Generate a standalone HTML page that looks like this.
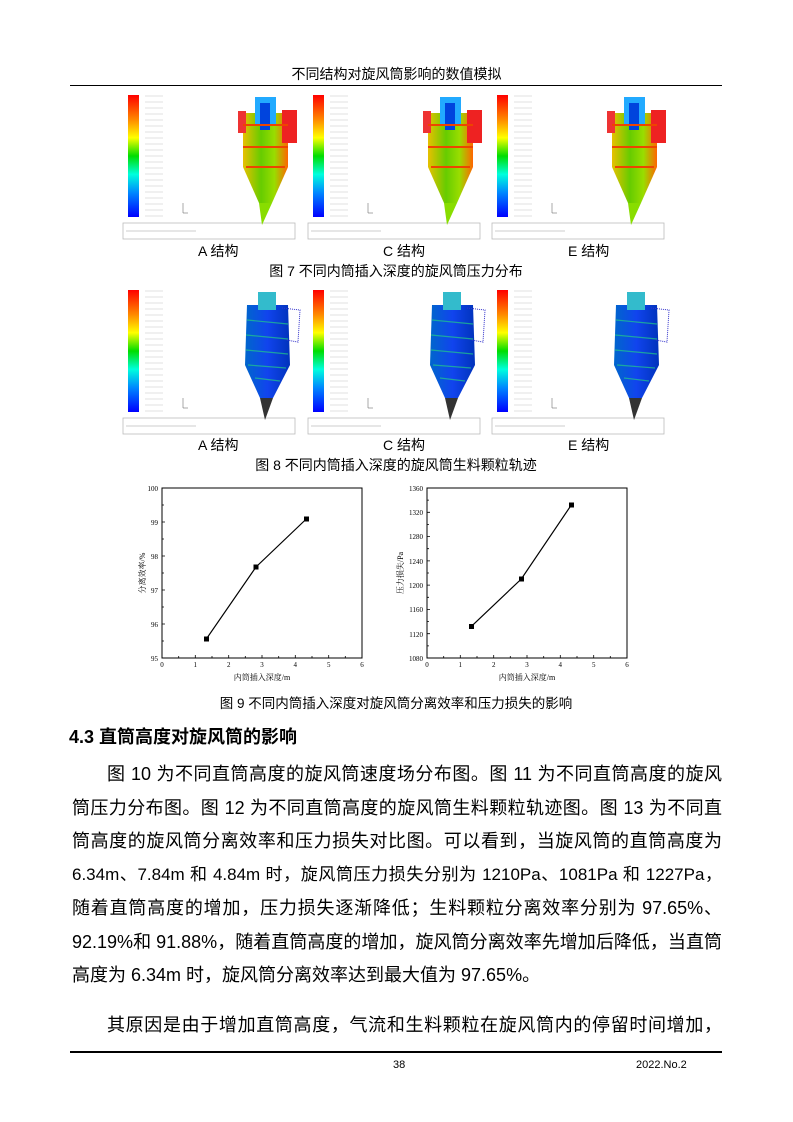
<!DOCTYPE html>
<html><head><meta charset="utf-8">
<style>
body{margin:0;background:#fff;}
#p{position:relative;width:793px;height:1122px;overflow:hidden;font-family:"Liberation Sans","Noto Sans CJK SC",sans-serif;color:#000;}
.t{position:absolute;white-space:nowrap;}
.ln{position:absolute;left:72px;width:650px;font-size:18px;text-align:justify;text-align-last:justify;height:26px;line-height:26px;overflow:hidden;}
</style></head><body><div id="p">
<div class="t" style="left:0;width:793px;text-align:center;top:64px;font-size:14px;">不同结构对旋风筒影响的数值模拟</div>
<div style="position:absolute;left:70px;top:85px;width:652px;height:1px;background:#000"></div>

<svg width="793" height="720" style="position:absolute;left:0;top:0" font-family="Liberation Sans, Noto Sans CJK SC, sans-serif">
<defs>
<linearGradient id="cb" x1="0" y1="0" x2="0" y2="1">
<stop offset="0" stop-color="#f00"/><stop offset="0.2" stop-color="#f80"/><stop offset="0.35" stop-color="#ff0"/><stop offset="0.5" stop-color="#0d0"/><stop offset="0.65" stop-color="#0fd"/><stop offset="0.8" stop-color="#08f"/><stop offset="1" stop-color="#00f"/>
</linearGradient>
<linearGradient id="body7" x1="0" y1="0" x2="1" y2="0">
<stop offset="0" stop-color="#e8c000"/><stop offset="0.4" stop-color="#6c0"/><stop offset="0.7" stop-color="#9d0"/><stop offset="1" stop-color="#f60"/>
</linearGradient>
<linearGradient id="body8" x1="0" y1="0" x2="1" y2="0">
<stop offset="0" stop-color="#06c"/><stop offset="0.5" stop-color="#14e"/><stop offset="1" stop-color="#03b"/>
</linearGradient>
<g id="cy7">
<path d="M133 28 L178 28 L178 82 L162 118 L149 118 L133 82 Z" fill="url(#body7)"/>
<path d="M172 25 L187 25 L187 58 L172 58Z" fill="#e22"/>
<path d="M128 26 L136 26 L136 48 L128 48Z" fill="#e33"/>
<path d="M145 12 L166 12 L166 40 L145 40Z" fill="#2af"/>
<path d="M150 18 L160 18 L160 45 L150 45Z" fill="#04d"/>
<path d="M133 40 L178 40 M133 62 L178 62 M136 82 L175 82" stroke="#e40" stroke-width="2"/>
<path d="M149 118 L162 118 L152 140 Z" fill="#8d0"/>
</g>
<g id="cy8">
<path d="M137 25 L178 25 L180 85 L163 118 L150 118 L135 85 Z" fill="url(#body8)"/>
<path d="M148 12 L166 12 L166 30 L148 30Z" fill="#3bc"/>
<path d="M172 28 L190 30 L188 62 L176 60" fill="none" stroke="#33c" stroke-width="1" stroke-dasharray="1 1"/>
<path d="M137 40 L178 44 M136 55 L178 59 M136 70 L178 74 M138 85 L176 88 M145 98 L170 101" stroke="#2c8" stroke-width="1.2" opacity="0.7"/>
<path d="M150 118 L163 118 L155 140 Z" fill="#333"/>
</g>
<g id="cb7">
<rect x="18" y="10" width="11" height="122" fill="url(#cb)"/>
<g stroke="#999" stroke-width="0.3"><path d="M35 11h18M35 17h18M35 23h18M35 29h18M35 35h18M35 41h18M35 47h18M35 53h18M35 59h18M35 65h18M35 71h18M35 77h18M35 83h18M35 89h18M35 95h18M35 101h18M35 107h18M35 113h18M35 119h18M35 125h18M35 131h18"/></g>
<path d="M73 118 v10 h5" stroke="#555" stroke-width="0.5" fill="none"/>
<rect x="13" y="138" width="172" height="16" fill="none" stroke="#bbb" stroke-width="0.8"/>
<path d="M16 146h70" stroke="#999" stroke-width="0.6"/>
</g>
</defs>
<g transform="translate(110,85)"><use href="#cb7"/><use href="#cy7"/></g>
<g transform="translate(295,85)"><use href="#cb7"/><use href="#cy7"/></g>
<g transform="translate(479,85)"><use href="#cb7"/><use href="#cy7"/></g>
<g font-size="14"><text x="198" y="256">A 结构</text><text x="383" y="256">C 结构</text><text x="568" y="256">E 结构</text></g>
<text x="396" y="276" font-size="14" text-anchor="middle">图 7  不同内筒插入深度的旋风筒压力分布</text>
<g transform="translate(110,280)"><use href="#cb7"/><use href="#cy8"/></g>
<g transform="translate(295,280)"><use href="#cb7"/><use href="#cy8"/></g>
<g transform="translate(479,280)"><use href="#cb7"/><use href="#cy8"/></g>
<g font-size="14"><text x="198" y="450">A 结构</text><text x="383" y="450">C 结构</text><text x="568" y="450">E 结构</text></g>
<text x="396" y="470" font-size="14" text-anchor="middle">图 8  不同内筒插入深度的旋风筒生料颗粒轨迹</text>

<g font-family="Liberation Serif, Noto Serif CJK SC, serif" font-size="7">
<rect x="162" y="488" width="200" height="170" fill="none" stroke="#000" stroke-width="1"/>
<g stroke="#000" stroke-width="0.8">
<path d="M195.3 658v-3M228.7 658v-3M262 658v-3M295.3 658v-3M328.7 658v-3M178.7 658v-2M212 658v-2M245.3 658v-2M278.7 658v-2M312 658v-2M345.3 658v-2"/>
<path d="M162 624h3M162 590h3M162 556h3M162 522h3M162 641h2M162 607h2M162 573h2M162 539h2M162 505h2"/>
</g>
<g text-anchor="middle"><text x="162" y="667">0</text><text x="195.3" y="667">1</text><text x="228.7" y="667">2</text><text x="262" y="667">3</text><text x="295.3" y="667">4</text><text x="328.7" y="667">5</text><text x="362" y="667">6</text></g>
<g text-anchor="end"><text x="158" y="661">95</text><text x="158" y="627">96</text><text x="158" y="593">97</text><text x="158" y="559">98</text><text x="158" y="525">99</text><text x="158" y="491">100</text></g>
<polyline points="206.3,639 256,567 306.3,519" fill="none" stroke="#000" stroke-width="1.2"/>
<g fill="#000"><rect x="204" y="636.5" width="5" height="5"/><rect x="253.5" y="564.5" width="5" height="5"/><rect x="304" y="516.5" width="5" height="5"/></g>
<text x="262" y="680" text-anchor="middle" font-size="8">内筒插入深度/m</text>
<text transform="translate(145,573) rotate(-90)" text-anchor="middle" font-size="8">分离效率/%</text>
<rect x="427" y="488" width="200" height="170" fill="none" stroke="#000" stroke-width="1"/>
<g stroke="#000" stroke-width="0.8">
<path d="M460.3 658v-3M493.7 658v-3M527 658v-3M560.3 658v-3M593.7 658v-3M443.7 658v-2M477 658v-2M510.3 658v-2M543.7 658v-2M577 658v-2M610.3 658v-2"/>
<path d="M427 633.7h3M427 609.4h3M427 585.1h3M427 560.9h3M427 536.6h3M427 512.3h3M427 645.9h2M427 621.6h2M427 597.3h2M427 573h2M427 548.7h2M427 524.4h2M427 500.1h2"/>
</g>
<g text-anchor="middle"><text x="427" y="667">0</text><text x="460.3" y="667">1</text><text x="493.7" y="667">2</text><text x="527" y="667">3</text><text x="560.3" y="667">4</text><text x="593.7" y="667">5</text><text x="627" y="667">6</text></g>
<g text-anchor="end"><text x="423" y="661">1080</text><text x="423" y="637">1120</text><text x="423" y="612">1160</text><text x="423" y="588">1200</text><text x="423" y="564">1240</text><text x="423" y="539">1280</text><text x="423" y="515">1320</text><text x="423" y="491">1360</text></g>
<polyline points="471.3,626.4 521.3,579 571.3,505" fill="none" stroke="#000" stroke-width="1.2"/>
<g fill="#000"><rect x="469" y="624" width="5" height="5"/><rect x="519" y="576.5" width="5" height="5"/><rect x="569" y="502.5" width="5" height="5"/></g>
<text x="527" y="680" text-anchor="middle" font-size="8">内筒插入深度/m</text>
<text transform="translate(403,573) rotate(-90)" text-anchor="middle" font-size="8">压力损失/Pa</text>
</g>
<text x="396" y="708" font-size="13.5" text-anchor="middle">图 9  不同内筒插入深度对旋风筒分离效率和压力损失的影响</text>
</svg>

<div class="t" style="left:69px;top:723px;font-size:18px;font-weight:bold;">4.3  直筒高度对旋风筒的影响</div>
<div class="ln" style="top:761px;left:107px;width:615px;">图 10 为不同直筒高度的旋风筒速度场分布图。图 11 为不同直筒高度的旋风</div>
<div class="ln" style="top:795px;">筒压力分布图。图 12 为不同直筒高度的旋风筒生料颗粒轨迹图。图 13 为不同直</div>
<div class="ln" style="top:828px;">筒高度的旋风筒分离效率和压力损失对比图。可以看到，当旋风筒的直筒高度为</div>
<div class="ln" style="top:862px;font-size:17px;">6.34m、7.84m 和 4.84m 时，旋风筒压力损失分别为 1210Pa、1081Pa 和 1227Pa，</div>
<div class="ln" style="top:895px;">随着直筒高度的增加，压力损失逐渐降低；生料颗粒分离效率分别为 97.65%、</div>
<div class="ln" style="top:929px;">92.19%和 91.88%，随着直筒高度的增加，旋风筒分离效率先增加后降低，当直筒</div>
<div class="ln" style="top:962px;text-align-last:left;">高度为 6.34m 时，旋风筒分离效率达到最大值为 97.65%。</div>
<div class="ln" style="top:1012px;left:107px;width:615px;">其原因是由于增加直筒高度，气流和生料颗粒在旋风筒内的停留时间增加，</div>

<div style="position:absolute;left:70px;top:1051px;width:652px;height:2px;background:#000"></div>
<div class="t" style="left:393px;top:1059px;font-size:11px;">38</div>
<div class="t" style="left:636px;top:1059px;font-size:11px;">2022.No.2</div>
</div></body></html>
